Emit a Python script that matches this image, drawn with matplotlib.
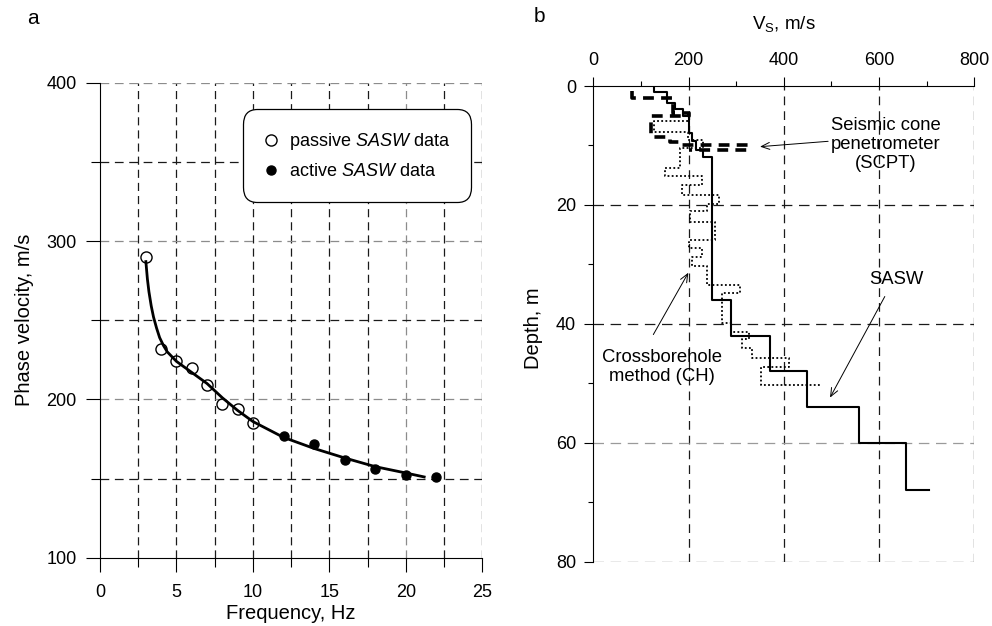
import numpy as np
import matplotlib
matplotlib.use("Agg")
import matplotlib.pyplot as plt
from matplotlib.ticker import MultipleLocator

plt.rcParams['font.family'] = ['Liberation Sans', 'DejaVu Sans']
plt.rcParams['mathtext.fontset'] = 'custom'
plt.rcParams['mathtext.rm'] = 'Liberation Sans'
plt.rcParams['mathtext.it'] = 'Liberation Sans:italic'

# ---- panel a: dispersion curve ----
passive_f = [3, 4, 5, 6, 7, 8, 9, 10]
passive_v = [290, 232, 224, 220, 209, 197, 194, 185]
active_f = [12, 14, 16, 18, 20, 22]
active_v = [177, 172, 162, 156, 152, 151]
fit_f = [3.0, 3.1, 3.2, 3.35, 3.5, 3.7, 3.9, 4.15, 4.4, 5, 6, 7, 8, 9, 10, 12, 14, 16, 18, 20, 21.2]
fit_v = [287, 276, 268, 259, 252, 245, 239, 234, 230, 224, 217, 210, 201, 193, 186, 176, 169, 163, 157.5, 153.5, 151]

# ---- panel b: Vs profiles ----
sasw_depth = [0, 1.0, 2.9, 3.9, 5.1, 7.9, 9.3, 10.7, 11.9, 36.0, 42.0, 48.0, 54.0, 60.0, 68.0]
sasw_vs = [127, 155, 171, 189, 200, 207, 216, 230, 249, 290, 370, 449, 558, 656]
sasw_tail = 705

scpt_vs = [82, 82, 168, 168, 200, 200, 122, 122, 160, 160, 182, 182, 325, 325, 200]
scpt_d = [0.9, 2.0, 2.0, 4.6, 4.6, 5.1, 5.1, 8.6, 8.6, 9.4, 9.4, 10.0, 10.0, 10.8, 10.8]

ch_vs = [199, 127, 127, 199, 199, 231, 231, 182, 182, 150, 150, 229, 229, 187, 187, 264,
         264, 238, 238, 204, 204, 255, 255, 201, 201, 229, 229, 208, 208, 239, 239, 308,
         308, 271, 271, 290, 290, 326, 326, 312, 312, 333, 333, 410, 410, 353, 353, 477]
ch_d = [5.8, 5.8, 7.7, 7.7, 9.1, 9.1, 10.4, 10.4, 13.8, 13.8, 15.2, 15.2, 16.6, 16.6, 18.3, 18.3,
        19.8, 19.8, 21.1, 21.1, 22.8, 22.8, 25.9, 25.9, 27.3, 27.3, 28.8, 28.8, 30.3, 30.3, 33.4, 33.4,
        34.8, 34.8, 39.8, 39.8, 41.3, 41.3, 42.5, 42.5, 44.1, 44.1, 45.8, 45.8, 47.2, 47.2, 50.2, 50.2]


def step_xy(vs, dep, tail):
    x = np.append(np.repeat(vs, 2), tail)
    y = np.append(np.repeat(dep, 2)[1:-1], dep[-1])
    return x, y


fig = plt.figure(figsize=(9.92, 6.26), dpi=100)
axa = fig.add_axes([0.1008, 0.1091, 0.3854, 0.7588])
axb = fig.add_axes([0.5981, 0.1027, 0.3841, 0.7599])

# ---------------- panel a ----------------
axa.set_xlim(0, 25)
axa.set_ylim(100, 400)
for s in ['top', 'right']:
    axa.spines[s].set_visible(False)
for s in ['left', 'bottom']:
    axa.spines[s].set_linewidth(0.8)

for x in np.arange(2.5, 25.01, 2.5):
    c = '#8c8c8c' if x == 20 else '#1a1a1a'
    axa.axvline(x, color=c, lw=0.9, dashes=(6.5, 4), zorder=1)
for y in np.arange(150, 401, 50):
    c = '#8c8c8c' if y % 100 == 0 else '#1a1a1a'
    axa.axhline(y, color=c, lw=0.9, dashes=(7, 4.5), zorder=1)

axa.plot(fit_f, fit_v, color='black', lw=2.0, zorder=3)
axa.plot(passive_f, passive_v, 'o', mfc='none', mec='black', ms=8, mew=1.0,
         zorder=4, label=r'passive $\mathit{SASW}$ data')
axa.plot(active_f, active_v, 'o', color='black', ms=6.5, zorder=4,
         label=r'active $\mathit{SASW}$ data')

axa.xaxis.set_major_locator(MultipleLocator(5))
axa.xaxis.set_minor_locator(MultipleLocator(2.5))
axa.yaxis.set_major_locator(MultipleLocator(100))
axa.yaxis.set_minor_locator(MultipleLocator(50))
axa.tick_params(which='major', direction='out', length=10, width=0.8, labelsize=13, pad=7)
axa.tick_params(which='minor', direction='out', length=6.5, width=0.8)
axa.tick_params(axis='x', which='major', pad=9)
axa.set_xlabel('Frequency, Hz', fontsize=14.5)
axa.set_ylabel('Phase velocity, m/s', fontsize=14.5)
axa.xaxis.set_label_coords(0.5, -0.098)
axa.yaxis.set_label_coords(-0.172, 0.5)

leg = axa.legend(loc='upper left', bbox_to_anchor=(0.373, 0.944), fontsize=13,
                 handlelength=0.8, handletextpad=0.55, borderpad=1.2, labelspacing=0.62,
                 frameon=True, fancybox=True, framealpha=1, edgecolor='black',
                 borderaxespad=0)
leg.get_frame().set_linewidth(0.9)
leg.get_frame().set_boxstyle('round', pad=0, rounding_size=0.8)
leg.set_zorder(10)

fig.text(0.027, 1 - 18.3 / 626, 'a', fontsize=15, va='center', ha='left')

# ---------------- panel b ----------------
axb.set_xlim(0, 800)
axb.set_ylim(80, 0)
axb.xaxis.tick_top()
axb.xaxis.set_label_position('top')
for s in ['bottom', 'right']:
    axb.spines[s].set_visible(False)
for s in ['top', 'left']:
    axb.spines[s].set_linewidth(0.8)

for x in [200, 400, 600, 800]:
    axb.axvline(x, color='#1a1a1a', lw=0.9, dashes=(7, 4.8), zorder=1)
for y in [20, 40, 60, 80]:
    c = {60: '#9a9a9a', 80: '#555555'}.get(y, '#1a1a1a')
    axb.axhline(y, color=c, lw=0.9, dashes=(8.4, 5.3), zorder=1)

sx, sy = step_xy(sasw_vs, sasw_depth, sasw_tail)
axb.plot(ch_vs, ch_d, color='black', lw=1.3, linestyle=(0, (1, 1.3)), zorder=3)
axb.plot(sx, sy, color='black', lw=1.5, zorder=4)
axb.plot(scpt_vs, scpt_d, color='black', lw=2.6, dashes=(3, 2), zorder=5)

axb.xaxis.set_major_locator(MultipleLocator(200))
axb.xaxis.set_minor_locator(MultipleLocator(100))
axb.yaxis.set_major_locator(MultipleLocator(20))
axb.yaxis.set_minor_locator(MultipleLocator(10))
axb.tick_params(which='major', direction='out', length=6.5, width=0.8, labelsize=13, pad=6)
axb.tick_params(which='minor', direction='out', length=3.5, width=0.8)
axb.set_xlabel(r'V$_\mathrm{S}$, m/s', fontsize=13.5)
axb.set_ylabel('Depth, m', fontsize=14.5)
axb.xaxis.set_label_coords(0.5, 1.12)
axb.yaxis.set_label_coords(-0.131, 0.49)

arrow = dict(arrowstyle='->,head_length=0.6,head_width=0.25', color='black', lw=0.7,
             shrinkA=0, shrinkB=0)
axb.text(614, 9.9, 'Seismic cone\npenetrometer\n(SCPT)', fontsize=13.3, ha='center',
         va='center', linespacing=1.15, zorder=6)
axb.annotate('', xy=(350, 10.2), xytext=(493, 9.3), arrowprops=arrow, zorder=6)
axb.text(636, 32.6, 'SASW', fontsize=13.3, ha='center', va='center', zorder=6)
axb.annotate('', xy=(497, 52.4), xytext=(612, 35.4), arrowprops=arrow, zorder=6)
axb.text(145, 47.3, 'Crossborehole\nmethod (CH)', fontsize=13.3, ha='center', va='center',
         linespacing=1.14, zorder=6)
axb.annotate('', xy=(199.5, 31.4), xytext=(126, 41.8), arrowprops=arrow, zorder=6)

fig.text(533.3 / 992, 1 - 16.7 / 626, 'b', fontsize=15, va='center', ha='left')

fig.savefig('out.png', dpi=100)
